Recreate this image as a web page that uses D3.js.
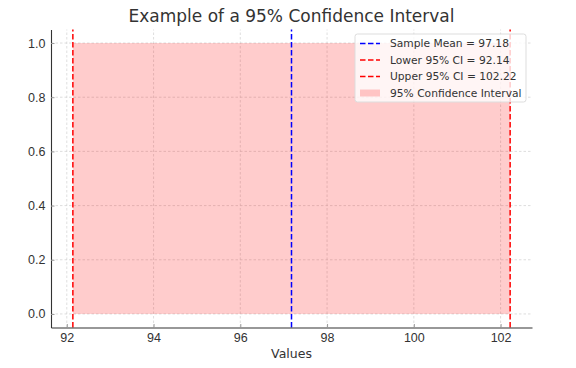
<!DOCTYPE html>
<html>
<head>
<meta charset="utf-8">
<script src="https://cdn.jsdelivr.net/npm/d3@7"></script>
<style>
  body { margin: 0; background: #fff; }
  svg { display: block; font-family: "DejaVu Sans", sans-serif; }
</style>
</head>
<body>
<div id="box"></div>
<script>
// chart data
const sampleMean = 97.18
const lowerCI = 92.14
const upperCI = 102.22
const xTicks = [92, 94, 96, 98, 100, 102]
const yTicks = [0.0, 0.2, 0.4, 0.6, 0.8, 1.0]
const legendItems = [
  {label: 'Sample Mean = 97.18', type: 'line', color: 'blue'},
  {label: 'Lower 95% CI = 92.14', type: 'line', color: 'red'},
  {label: 'Upper 95% CI = 102.22', type: 'line', color: 'red'},
  {label: '95% Confidence Interval', type: 'patch', color: 'rgba(255,0,0,0.2)'}
]

const width = 576
const height = 368
const margin = {top: 29.5, right: 44, bottom: 40.5, left: 51}
const textColor = '#333'

const svg = d3.select('#box').append('svg')
  .attr('width', width)
  .attr('height', height)

// matplotlib 5% margins
const pad = (upperCI - lowerCI) * 0.05
const x = d3.scaleLinear()
  .domain([lowerCI - pad, upperCI + pad])
  .range([margin.left, width - margin.right])
const y = d3.scaleLinear()
  .domain([-0.05, 1.05])
  .range([height - margin.bottom, margin.top])

// grid
const grid = svg.append('g')
grid.selectAll('.gx').data(xTicks).join('line')
  .attr('x1', d => x(d)).attr('x2', d => x(d))
  .attr('y1', y.range()[0]).attr('y2', y.range()[1])
  .attr('stroke', '#d6d6d6').attr('stroke-width', 0.8)
  .attr('stroke-dasharray', '2.5,2')
grid.selectAll('.gy').data(yTicks).join('line')
  .attr('y1', d => y(d)).attr('y2', d => y(d))
  .attr('x1', x.range()[0]).attr('x2', x.range()[1])
  .attr('stroke', '#d6d6d6').attr('stroke-width', 0.8)
  .attr('stroke-dasharray', '2.5,2')

// confidence band
svg.append('rect')
  .attr('x', x(lowerCI))
  .attr('y', y(1))
  .attr('width', x(upperCI) - x(lowerCI))
  .attr('height', y(0) - y(1))
  .attr('fill', 'red')
  .attr('fill-opacity', 0.2)

// vertical lines
const vlines = [
  {v: sampleMean, color: 'blue'},
  {v: lowerCI, color: 'red'},
  {v: upperCI, color: 'red'}
]
svg.append('g').selectAll('line').data(vlines).join('line')
  .attr('x1', d => x(d.v)).attr('x2', d => x(d.v))
  .attr('y1', y.range()[0]).attr('y2', y.range()[1])
  .attr('stroke', d => d.color)
  .attr('stroke-width', 1.5)
  .attr('stroke-dasharray', '5.5,2.5')

// axes (ticks inward)
const xAxis = svg.append('g')
  .attr('transform', `translate(0,${height - margin.bottom})`)
  .call(d3.axisBottom(x).tickValues(xTicks).tickFormat(d3.format('d')).tickSizeInner(-3.5).tickSizeOuter(0).tickPadding(6))
const yAxis = svg.append('g')
  .attr('transform', `translate(${margin.left},0)`)
  .call(d3.axisLeft(y).tickValues(yTicks).tickFormat(d3.format('.1f')).tickSizeInner(-3.5).tickSizeOuter(0).tickPadding(5.5))

for (const ax of [xAxis, yAxis]) {
  ax.select('.domain').attr('stroke', textColor).attr('stroke-width', 1.1)
  ax.selectAll('.tick line').attr('stroke', '#999')
  ax.selectAll('.tick text').attr('fill', textColor).style('font-size', '12.5px')
}

// title
svg.append('text')
  .attr('x', (x.range()[0] + x.range()[1]) / 2)
  .attr('y', 22)
  .attr('text-anchor', 'middle')
  .attr('fill', textColor)
  .style('font-size', '17px')
  .text('Example of a 95% Confidence Interval')

// x label
svg.append('text')
  .attr('x', (x.range()[0] + x.range()[1]) / 2)
  .attr('y', 358)
  .attr('text-anchor', 'middle')
  .attr('fill', textColor)
  .style('font-size', '12.5px')
  .text('Values')

// legend
const legend = svg.append('g').attr('transform', 'translate(355,34)')
legend.append('rect')
  .attr('width', 171).attr('height', 68)
  .attr('rx', 2.5)
  .attr('fill', 'rgba(255,255,255,0.8)')
  .attr('stroke', '#ddd')
const rows = legend.selectAll('g').data(legendItems).join('g')
  .attr('transform', (d, i) => `translate(5,${9.5 + i * 16.5})`)
rows.filter(d => d.type === 'line').append('line')
  .attr('x1', 0).attr('x2', 20)
  .attr('stroke', d => d.color)
  .attr('stroke-width', 1.5)
  .attr('stroke-dasharray', '5.5,2.5')
rows.filter(d => d.type === 'patch').append('rect')
  .attr('x', 0).attr('y', -3.5).attr('width', 20).attr('height', 7)
  .attr('fill', d => d.color)
rows.append('text')
  .attr('x', 30).attr('y', 3.8)
  .attr('fill', textColor)
  .style('font-size', '10.7px')
  .text(d => d.label)
</script>
</body>
</html>
